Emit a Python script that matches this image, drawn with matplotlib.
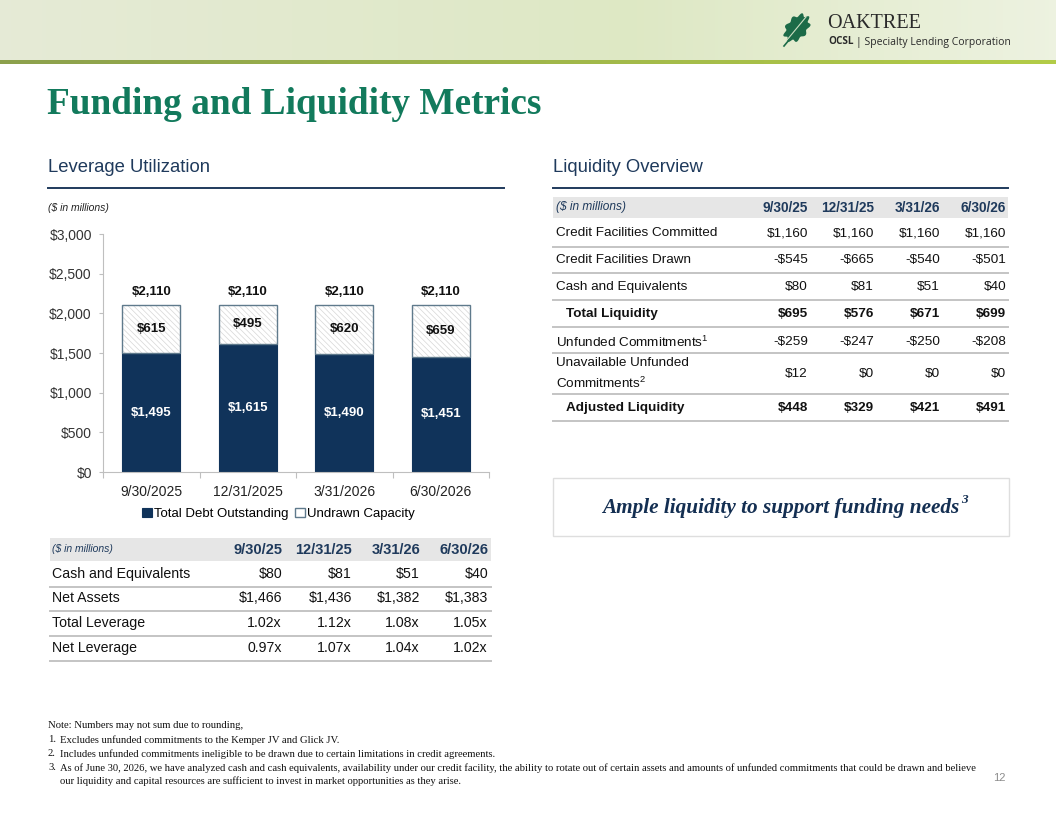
import numpy as np
import matplotlib
matplotlib.use('Agg')
import matplotlib.pyplot as plt
from matplotlib.patches import Rectangle, Polygon
from matplotlib.lines import Line2D

plt.rcParams['mathtext.fontset'] = 'custom'
plt.rcParams['mathtext.rm'] = 'Liberation Sans'

###############################################################
# data
###############################################################
quarters = ['9/30/2025', '12/31/2025', '3/31/2026', '6/30/2026']
debt_outstanding = [1495, 1615, 1490, 1451]
undrawn_capacity = [615, 495, 620, 659]
total_capacity = [2110, 2110, 2110, 2110]
y_ticks = [0, 500, 1000, 1500, 2000, 2500, 3000]

short_quarters = ['9/30/25', '12/31/25', '3/31/26', '6/30/26']

lev_rows = ['Cash and Equivalents', 'Net Assets', 'Total Leverage', 'Net Leverage']
lev_values = [
    ['$80', '$81', '$51', '$40'],
    ['$1,466', '$1,436', '$1,382', '$1,383'],
    ['1.02x', '1.12x', '1.08x', '1.05x'],
    ['0.97x', '1.07x', '1.04x', '1.02x'],
]

liq_rows = ['Credit Facilities Committed', 'Credit Facilities Drawn', 'Cash and Equivalents',
            'Total Liquidity', r'Unfunded Commitments$^{1}$',
            'Unavailable Unfunded\n' + r'Commitments$^{2}$', 'Adjusted Liquidity']
liq_bold = [False, False, False, True, False, False, True]
liq_values = [
    ['$1,160', '$1,160', '$1,160', '$1,160'],
    ['-$545', '-$665', '-$540', '-$501'],
    ['$80', '$81', '$51', '$40'],
    ['$695', '$576', '$671', '$699'],
    ['-$259', '-$247', '-$250', '-$208'],
    ['$12', '$0', '$0', '$0'],
    ['$448', '$329', '$421', '$491'],
]

footnotes = [
    'Note: Numbers may not sum due to rounding,',
    ('1.', 'Excludes unfunded commitments to the Kemper JV and Glick JV.'),
    ('2.', 'Includes unfunded commitments ineligible to be drawn due to certain limitations in credit agreements.'),
    ('3.', 'As of June 30, 2026, we have analyzed cash and cash equivalents, availability under our credit facility, '
           'the ability to rotate out of certain assets and amounts of unfunded commitments that could be drawn and believe'),
    ('', 'our liquidity and capital resources are sufficient to invest in market opportunities as they arise.'),
]

###############################################################
# page setup
###############################################################
W, H = 1056, 816
navy = '#1f3a5c'
bar_navy = '#10335a'
sans = 'Liberation Sans'
serif = 'Liberation Serif'
rule_grey = '#c4c4c4'

fig = plt.figure(figsize=(W / 100, H / 100), dpi=100)
fig.patch.set_facecolor('white')
renderer = fig.canvas.get_renderer()


def fx(x):
    return x / W


def fy(y):
    return 1 - y / H


def hline(x0, x1, y, color, lw):
    fig.add_artist(Line2D([fx(x0), fx(x1)], [fy(y), fy(y)], color=color, linewidth=lw,
                          transform=fig.transFigure))


def right_px(txt):
    # right edge of a text in figure pixels
    return txt.get_window_extent(renderer).x1


##################################################
# header band
##################################################
band = fig.add_axes([0, fy(60), 1, 60 / H])
t = np.linspace(0, 1, 300)
c_left = np.array([0.90, 0.92, 0.84])
c_mid = np.array([0.87, 0.91, 0.77])
c_right = np.array([0.93, 0.95, 0.88])
grad = np.where(t[:, None] < 0.6,
                c_left + (c_mid - c_left) * (t[:, None] / 0.6),
                c_mid + (c_right - c_mid) * ((t[:, None] - 0.6) / 0.4))
band.imshow(grad[None, :, :], aspect='auto', extent=[0, 1, 0, 1])
band.axis('off')

stripe = fig.add_axes([0, fy(64), 1, 4 / H])
s1 = np.array([0.55, 0.63, 0.30])
s2 = np.array([0.70, 0.80, 0.28])
sgrad = s1 + (s2 - s1) * t[:, None]
stripe.imshow(sgrad[None, :, :], aspect='auto', extent=[0, 1, 0, 1])
stripe.axis('off')

# oak leaf logo
th = np.linspace(0, 2 * np.pi, 300)
r = 1 + 0.12 * np.cos(9 * th)
lx = 10 * r * np.cos(th)
ly = 15 * r * np.sin(th)
ang = np.deg2rad(40)
cx, cy = 797, 28
px = cx + lx * np.cos(ang) - ly * np.sin(ang)
py = cy + lx * np.sin(ang) + ly * np.cos(ang)
fig.add_artist(Polygon(np.column_stack([fx(px), fy(py)]), closed=True, facecolor='#1c6b48',
                       edgecolor='none', transform=fig.transFigure))
fig.add_artist(Line2D([fx(787), fx(806)], [fy(40), fy(17)], color='#cfe0c4', linewidth=0.8,
                      transform=fig.transFigure))
fig.add_artist(Line2D([fx(784), fx(789)], [fy(46), fy(40)], color='#1c6b48', linewidth=1.2,
                      transform=fig.transFigure))
fig.text(fx(827), fy(23), 'OAKTREE', family=serif, fontsize=14.5, color='#2a2a2a', va='center')
ocsl = fig.text(fx(828), fy(42), 'OCSL', family='Open Sans', fontsize=7.2, weight='bold',
                color='#2a2a2a', va='center')
fig.text((right_px(ocsl) + 2) / W, fy(42), '| Specialty Lending Corporation', family='Open Sans',
         fontsize=7.5, color='#2a2a2a', va='center')

##################################################
# titles
##################################################
fig.text(fx(47), fy(105), 'Funding and Liquidity Metrics', family=serif, weight='bold',
         fontsize=26.8, color='#127a5c', va='center')

fig.text(fx(48), fy(167), 'Leverage Utilization', family=sans, fontsize=13.3, color=navy, va='center')
fig.text(fx(553), fy(167), 'Liquidity Overview', family=sans, fontsize=13.3, color=navy, va='center')
hline(48, 504, 188, navy, 1.4)
hline(553, 1008, 188, navy, 1.4)

fig.text(fx(48), fy(208), '($ in millions)', family=sans, style='italic', fontsize=7.5,
         color='#222222', va='center')

##################################################
# bar chart
##################################################
ax = fig.add_axes([fx(103), fy(472), (489 - 103) / W, (472 - 234) / H])
x = np.arange(len(quarters))
b1 = ax.bar(x, debt_outstanding, width=0.6, color=bar_navy, edgecolor=bar_navy,
            linewidth=0.8, label='Total Debt Outstanding')
plt.rcParams['hatch.linewidth'] = 0.5
# hatched fill in light grey, outline drawn separately
ax.bar(x, undrawn_capacity, bottom=debt_outstanding, width=0.6, color='white',
       edgecolor='#d6d6d6', linewidth=0, hatch='\\\\\\\\\\\\')
b2 = ax.bar(x, undrawn_capacity, bottom=debt_outstanding, width=0.6, fill=False,
            edgecolor='#5f7a8c', linewidth=1.0, label='Undrawn Capacity')
ax.set_xlim(-0.5, 3.5)
ax.set_ylim(0, 3000)
ax.set_yticks(y_ticks)
ax.set_yticklabels(['${:,}'.format(v) for v in y_ticks], family=sans, fontsize=10, color='#333333')
ax.set_xticks(x)
ax.set_xticklabels(quarters, family=sans, fontsize=10, color='#222222')
ax.set_xticks(np.arange(-0.5, 4, 1), minor=True)
ax.tick_params(axis='x', which='major', length=0, pad=9)
ax.tick_params(axis='x', which='minor', length=4, color='#bfbfbf', width=0.8)
ax.tick_params(axis='y', length=3, color='#bfbfbf', width=0.8, pad=5)
for side in ['top', 'right']:
    ax.spines[side].set_visible(False)
for side in ['left', 'bottom']:
    ax.spines[side].set_color('#bfbfbf')
    ax.spines[side].set_linewidth(0.8)
ax.set_facecolor('none')

ax.bar_label(b1, labels=['${:,}'.format(v) for v in debt_outstanding], label_type='center',
             color='white', weight='bold', fontsize=9.5, family=sans)
ax.bar_label(b2, labels=['${:,}'.format(v) for v in undrawn_capacity], label_type='center',
             color='#111111', weight='bold', fontsize=9.5, family=sans)
ax.bar_label(b2, labels=['${:,}'.format(v) for v in total_capacity], padding=5,
             color='#111111', weight='bold', fontsize=9.5, family=sans)

leg = ax.legend(handles=[b1, b2], loc='center', bbox_to_anchor=(fx(278), fy(514)),
                bbox_transform=fig.transFigure, ncol=2, frameon=False, handlelength=0.75,
                handleheight=0.75, handletextpad=0.15, columnspacing=0.5,
                prop={'family': sans, 'size': 9.5})

##################################################
# leverage table (bottom left)
##################################################
fig.add_artist(Rectangle((fx(50), fy(561)), (491 - 50) / W, 23 / H, facecolor='#e6e6e6',
                         edgecolor='none', transform=fig.transFigure))
fig.text(fx(52), fy(549), '($ in millions)', family=sans, style='italic', fontsize=7.5,
         color=navy, va='center')
lev_cols = [282, 352, 420, 488]
for q, cxp in zip(short_quarters, lev_cols):
    fig.text(fx(cxp), fy(550), q, family=sans, weight='bold', fontsize=10.5, color=navy,
             ha='right', va='center')
lev_y = [574, 598, 623, 648]
for label, vals, ry in zip(lev_rows, lev_values, lev_y):
    fig.text(fx(52), fy(ry), label, family=sans, fontsize=10.2, color='#111111', va='center')
    for v, cxp in zip(vals, lev_cols):
        fig.text(fx(cxp), fy(ry), v, family=sans, fontsize=10.2, color='#111111',
                 ha='right', va='center')
    hline(50, 491, ry + 12.5, rule_grey, 1.4)

##################################################
# liquidity table (top right)
##################################################
fig.add_artist(Rectangle((fx(553), fy(218)), (1008 - 553) / W, 21 / H, facecolor='#e6e6e6',
                         edgecolor='none', transform=fig.transFigure))
fig.text(fx(556), fy(207), '($ in millions)', family=sans, style='italic', fontsize=8.6,
         color=navy, va='center')
liq_cols = [808, 874, 940, 1006]
for q, cxp in zip(short_quarters, liq_cols):
    fig.text(fx(cxp), fy(208), q, family=sans, weight='bold', fontsize=9.8, color=navy,
             ha='right', va='center')
liq_y = [233, 260, 287, 314, 342, 374, 408]
liq_lines = [247, 273, 300, 327, 353, 394, 421]
for label, bold, vals, ry, ly_ in zip(liq_rows, liq_bold, liq_values, liq_y, liq_lines):
    lx_ = 566 if bold else 556
    fig.text(fx(lx_), fy(ry), label, family=sans, fontsize=9.7, color='#111111', va='center',
             weight='bold' if bold else 'normal', linespacing=1.55)
    for v, cxp in zip(vals, liq_cols):
        fig.text(fx(cxp), fy(ry), v, family=sans, fontsize=9.7, color='#111111', ha='right',
                 va='center', weight='bold' if bold else 'normal')
    hline(553, 1008, ly_, rule_grey, 1.4)

##################################################
# callout box
##################################################
fig.add_artist(Rectangle((fx(553), fy(536)), (1009 - 553) / W, 58 / H, facecolor='white',
                         edgecolor='#dedede', linewidth=1.0, transform=fig.transFigure))
callout = fig.text(fx(781), fy(508), 'Ample liquidity to support funding needs', family=serif,
                   style='italic', weight='bold', fontsize=15.3, color='#142f52',
                   ha='center', va='center')
fig.text((right_px(callout) + 1) / W, fy(500), '3', family=serif, style='italic', weight='bold',
         fontsize=9.5, color='#142f52', va='center')

##################################################
# footnotes
##################################################
foot_y = [725, 740, 754, 768, 781]
fs_note = 7.65
for item, ry in zip(footnotes, foot_y):
    if isinstance(item, str):
        fig.text(fx(48), fy(ry), item, family=serif, fontsize=fs_note, color='#111111', va='center')
    else:
        num, txt = item
        fig.text(fx(48), fy(ry), num, family=serif, fontsize=fs_note, color='#111111', va='center')
        fig.text(fx(60), fy(ry), txt, family=serif, fontsize=fs_note, color='#111111', va='center')
fig.text(fx(1006), fy(778), '12', family=sans, fontsize=8, color='#8c8c8c', ha='right', va='center')

fig.savefig('out.png', dpi=100, facecolor='white')
